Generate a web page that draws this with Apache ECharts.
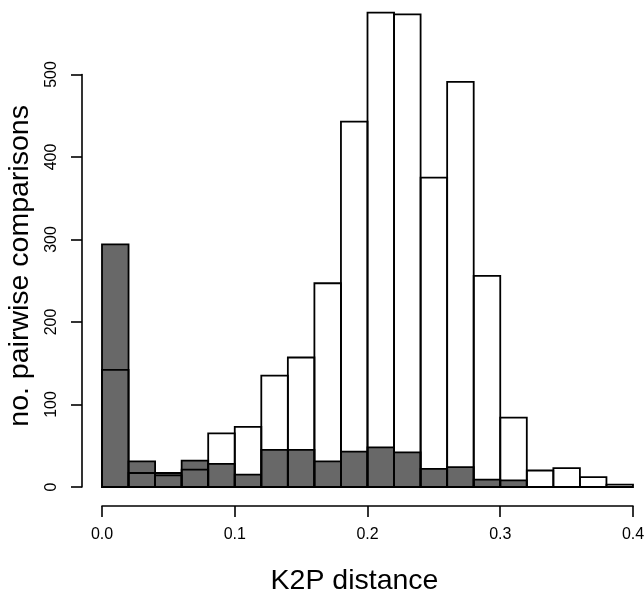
<!DOCTYPE html>
<html>
<head>
<meta charset="utf-8">
<script src="https://cdn.jsdelivr.net/npm/echarts@6/dist/echarts.min.js"></script>
<style>html,body{margin:0;padding:0;background:#fff}#c{width:644px;height:591px}</style>
</head>
<body>
<div id="c"></div>
<script>
// bin edges (K2P distance)
var binEdges = [0, 0.02, 0.04, 0.06, 0.08, 0.10, 0.12, 0.14, 0.16, 0.18, 0.20,
                0.22, 0.24, 0.26, 0.28, 0.30, 0.32, 0.34, 0.36, 0.38, 0.40];
// interspecific (white, outlined) counts per bin
var interCounts = [142, 17, 14, 21, 65, 73, 135, 157, 247, 443, 575, 573, 375, 491, 256, 84, 20, 23, 12, 3];
// intraspecific (grey) counts per bin
var intraCounts = [294, 31, 17, 32, 28, 15, 45, 45, 31, 43, 48, 42, 22, 24, 9, 8, 0, 0, 0, 0];
var xTicks = [0, 0.1, 0.2, 0.3, 0.4];
var yTicks = [0, 100, 200, 300, 400, 500];

function binData(counts) {
  var out = [];
  for (var i = 0; i < counts.length; i++) {
    if (counts[i] > 0) out.push([binEdges[i], binEdges[i + 1], counts[i]]);
  }
  return out;
}

function makeRender(fill) {
  return function (params, api) {
    var p0 = api.coord([api.value(0), 0]);
    var p1 = api.coord([api.value(1), api.value(2)]);
    return {
      type: 'rect',
      shape: { x: p0[0], y: p1[1], width: p1[0] - p0[0], height: p0[1] - p1[1] },
      style: { fill: fill, stroke: '#000', lineWidth: 1.8 }
    };
  };
}

var font = 'Liberation Sans, Arial, Helvetica, sans-serif';
var chart = echarts.init(document.getElementById('c'), null, { renderer: 'canvas' });
var yScale = 412.5 / 500; // px per unit
var dataMax = 536;
var hiddenAxis = { axisLine: { show: false }, axisTick: { show: false }, axisLabel: { show: false }, splitLine: { show: false } };

chart.setOption({
  backgroundColor: '#fff',
  animation: false,
  grid: [
    // data grid
    { left: 102, right: 11, bottom: 104, top: 487 - dataMax * yScale, outerBoundsMode: 'none' },
    // y-axis grid (axis line set apart to the left)
    { left: 82, right: 11, bottom: 104, top: 487 - 500 * yScale, outerBoundsMode: 'none' },
    // x-axis grid (axis line set apart below)
    { left: 102, right: 11, bottom: 85, top: 487 - 500 * yScale, outerBoundsMode: 'none' }
  ],
  xAxis: [
    Object.assign({ gridIndex: 0, type: 'value', min: 0, max: 0.4 }, hiddenAxis),
    Object.assign({ gridIndex: 1, type: 'value', min: 0, max: 1 }, hiddenAxis),
    {
      gridIndex: 2, type: 'value', min: xTicks[0], max: xTicks[xTicks.length - 1], interval: 0.1,
      axisLine: { show: true, onZero: false, lineStyle: { color: '#000', width: 1.6 } },
      axisTick: { show: true, length: 11, lineStyle: { color: '#000', width: 1.6 } },
      axisLabel: { show: true, margin: 21, fontSize: 16, color: '#000', fontFamily: font,
        formatter: function (v) { return v.toFixed(1); } },
      splitLine: { show: false },
      name: 'K2P distance', nameLocation: 'middle', nameGap: 61,
      nameTextStyle: { fontSize: 28.5, color: '#000', fontFamily: font, padding: [0, 26, 0, 0] }
    }
  ],
  yAxis: [
    Object.assign({
      gridIndex: 0, type: 'value', min: 0, max: dataMax,
      name: 'no. pairwise comparisons', nameLocation: 'middle', nameGap: 67,
      nameTextStyle: { fontSize: 28.5, color: '#000', fontFamily: font }
    }, hiddenAxis),
    {
      gridIndex: 1, type: 'value', min: yTicks[0], max: yTicks[yTicks.length - 1], interval: 100,
      axisLine: { show: true, onZero: false, lineStyle: { color: '#000', width: 1.6 } },
      axisTick: { show: true, length: 11, lineStyle: { color: '#000', width: 1.6 } },
      axisLabel: { show: true, rotate: 90, margin: 22, fontSize: 16, color: '#000', fontFamily: font },
      splitLine: { show: false }
    },
    Object.assign({ gridIndex: 2, type: 'value', min: 0, max: 1 }, hiddenAxis)
  ],
  series: [
    {
      type: 'custom', xAxisIndex: 0, yAxisIndex: 0, clip: false,
      renderItem: makeRender('#686868'),
      encode: { x: [0, 1], y: 2 },
      data: binData(intraCounts)
    },
    {
      type: 'custom', xAxisIndex: 0, yAxisIndex: 0, clip: false,
      renderItem: makeRender('rgba(0,0,0,0)'),
      encode: { x: [0, 1], y: 2 },
      data: binData(interCounts)
    }
  ]
});
</script>
</body>
</html>
